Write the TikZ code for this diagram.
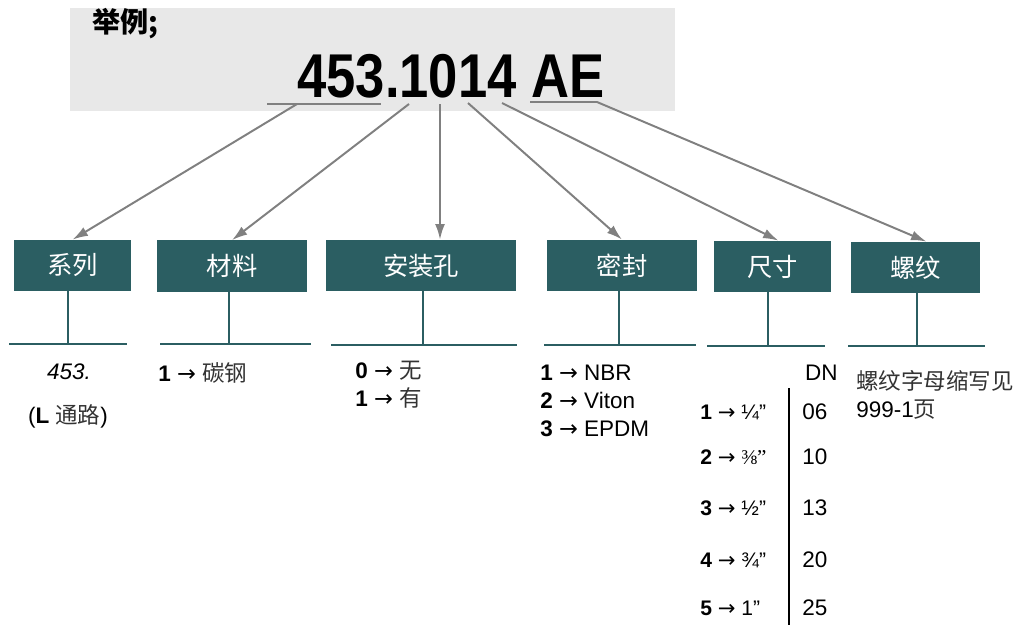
\documentclass[tikz,border=0pt]{standalone}
\usepackage{fontspec}
\setmainfont{Liberation Sans}
\newfontfamily\cjk{Noto Sans CJK SC}
\newfontfamily\timesfont{Liberation Serif}
\newfontfamily\symfont{DejaVu Sans}
\usetikzlibrary{arrows.meta, positioning, calc}
\definecolor{tealbox}{HTML}{2B5E62}
\definecolor{panelgray}{HTML}{E8E8E8}
\definecolor{arrowgray}{HTML}{808080}
\definecolor{inkgray}{HTML}{333333}
\newcommand{\zh}[1]{{\cjk\color{inkgray}#1}}
\newcommand{\goes}{\ {\symfont →}\ }

\begin{document}
\begin{tikzpicture}[
    x=0.025cm, y=-0.025cm,
    >={Latex[length=11pt,width=7pt]},
    box/.style={
        fill=tealbox, inner sep=0pt,
        minimum width=#1, minimum height=1.28cm,
        font=\fontsize{18}{20}\selectfont\cjk, text=white
    },
    stem/.style={draw=tealbox, line width=1.4pt},
    pointer/.style={->, draw=arrowgray, line width=1.4pt},
    uline/.style={draw=arrowgray, line width=1.4pt},
    body/.style={inner sep=0pt, font=\fontsize{16}{20}\selectfont, align=left},
    small/.style={inner sep=0pt, font=\fontsize{15}{17}\selectfont}
]
\useasboundingbox (0,0) rectangle (1029,625);

% === Example code panel ===
\node[fill=panelgray, minimum width=15.125cm, minimum height=2.575cm, inner sep=0pt]
    (panel) at (372.5,59.5) {};
\node[inner sep=0pt, anchor=west, font=\fontsize{20}{22}\selectfont\cjk\bfseries]
    (title) at (92,24) {举例;};
\node[inner sep=0pt, anchor=base west, font=\fontsize{44}{44}\selectfont\bfseries]
    (code) at (297,97) {\scalebox{0.85}[1]{453.1014 AE}};

% underlines and arrow starts
\coordinate (ulA) at (267,104);
\coordinate (ulB) at (381,104);
\coordinate (ulC) at (530,102);
\coordinate (ulD) at (597,102);
\coordinate (pSeries) at (297,104);
\coordinate (pMaterial) at (409,104);
\coordinate (pMount) at (440,104);
\coordinate (pSeal) at (468,103);
\coordinate (pSize) at (502,103);

% === Category boxes ===
\node[box=2.925cm] (series) at (72.5,265.5) {系列};
\node[box=3.75cm] (material) at (232,266) {材料};
\node[box=4.75cm] (mount) at (421,265.5) {安装孔};
\node[box=3.75cm] (seal) at (622,265.5) {密封};
\node[box=2.925cm] (size) at (772.5,266.5) {尺寸};
\node[box=3.225cm] (thread) at (915.5,267.5) {螺纹};

% === Arrows ===
\draw[uline] (ulA) -- (ulB);
\draw[uline] (ulC) -- (ulD);
\draw[pointer] (pSeries) -- (series.north);
\draw[pointer] (pMaterial) -- (material.north);
\draw[pointer] (pMount) -- (pMount |- mount.north);
\draw[pointer] (pSeal) -- (seal.north);
\draw[pointer] (pSize) -- ($(size.north)+(6,0)$);
\draw[pointer] (ulD) -- ($(thread.north)+(11,0)$);

% === Stems and rules ===
\coordinate (seriesL) at (9,344);     \coordinate (seriesR) at (127,344);
\coordinate (materialL) at (160,344); \coordinate (materialR) at (311,344);
\coordinate (mountL) at (331,345);    \coordinate (mountR) at (517,345);
\coordinate (sealL) at (544,345);     \coordinate (sealR) at (696,345);
\coordinate (sizeL) at (707,346);     \coordinate (sizeR) at (825,346);
\coordinate (threadL) at (848,346);   \coordinate (threadR) at (985,346);

\coordinate (seriesStem) at (68,344);
\coordinate (materialStem) at (229,344);
\coordinate (mountStem) at (423,345);
\coordinate (sealStem) at (619,345);
\coordinate (sizeStem) at (768,346);
\coordinate (threadStem) at (917,346);

\draw[stem] (seriesL) -- (seriesR);
\draw[stem] (materialL) -- (materialR);
\draw[stem] (mountL) -- (mountR);
\draw[stem] (sealL) -- (sealR);
\draw[stem] (sizeL) -- (sizeR);
\draw[stem] (threadL) -- (threadR);

\draw[stem] (series.south -| seriesStem) -- (seriesStem);
\draw[stem] (material.south -| materialStem) -- (materialStem);
\draw[stem] (mount.south -| mountStem) -- (mountStem);
\draw[stem] (seal.south -| sealStem) -- (sealStem);
\draw[stem] (size.south -| sizeStem) -- (sizeStem);
\draw[stem] (thread.south -| threadStem) -- (threadStem);

% === Option texts ===
\node[body] (seriesVal) at (69,372) {\textit{453.}};
\node[body] (seriesNote) at (68,416) {(\textbf{L} \zh{通路})};
\node[body, anchor=west] (materialVal) at (158,373) {\textbf{1}\goes\zh{碳钢}};
\node[body, anchor=west] (mountVal) at (355,385)
    {\textbf{0}\goes\zh{无}\\\textbf{1}\goes\zh{有}};
\node[body, anchor=west] (sealVal) at (540,401)
    {\textbf{1}\goes NBR\\\textbf{2}\goes Viton\\\textbf{3}\goes EPDM};
\node[body, anchor=east] (dnHead) at (838,373) {DN};
\node[body, anchor=west] (threadVal) at (856,394.5)
    {\zh{螺纹字母缩写见}\\999-1\zh{页}};

% === Size table ===
\coordinate (tableTop) at (789,388);
\coordinate (tableBot) at (789,625);
\draw[line width=2pt] (tableTop) -- (tableBot);

\node[small, anchor=west] (inch1) at (700,412) {\textbf{1}\goes ¼”};
\node[small, anchor=west] (inch2) at (700,457) {\textbf{2}\goes {\timesfont ⅜”}};
\node[small, anchor=west] (inch3) at (700,508) {\textbf{3}\goes ½”};
\node[small, anchor=west] (inch4) at (700,560) {\textbf{4}\goes ¾”};
\node[small, anchor=west] (inch5) at (700,608) {\textbf{5}\goes 1”};

\node[body, anchor=west] (dn1) at (802,412) {06};
\node[body, anchor=west] (dn2) at (802,457) {10};
\node[body, anchor=west] (dn3) at (802,508) {13};
\node[body, anchor=west] (dn4) at (802,560) {20};
\node[body, anchor=west] (dn5) at (802,608) {25};

\end{tikzpicture}
\end{document}
